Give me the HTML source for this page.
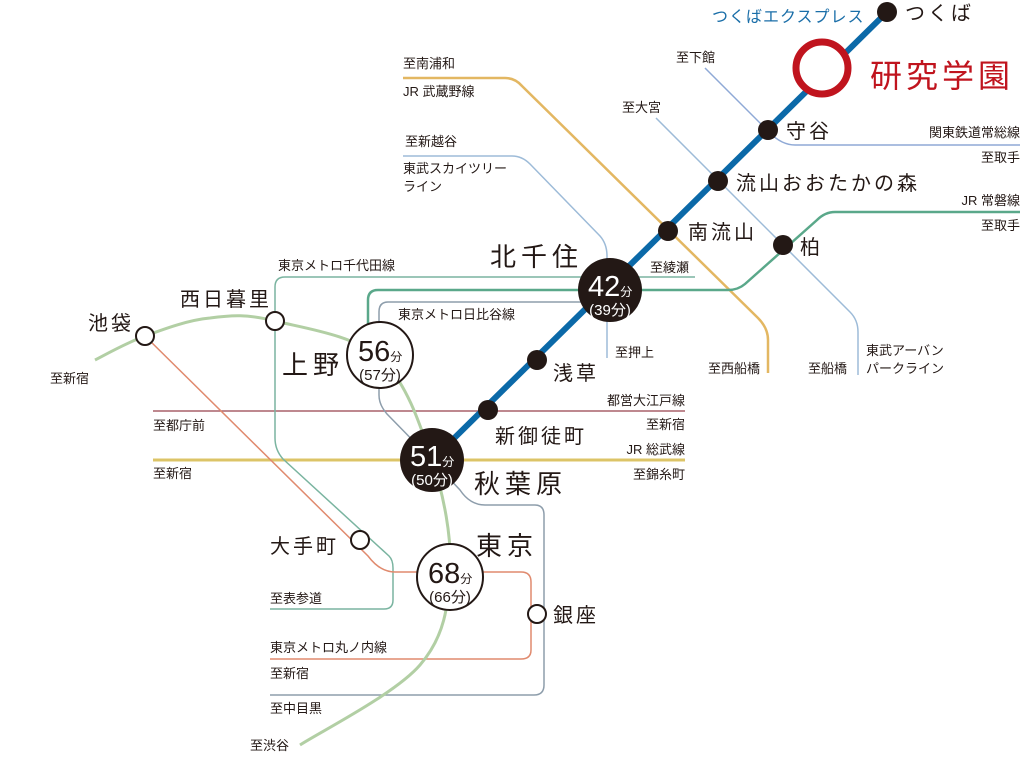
<!DOCTYPE html>
<html><head><meta charset="utf-8"><style>
html,body{margin:0;padding:0;background:#fff;}
svg{display:block;}
text{font-family:"Liberation Sans","Noto Sans CJK JP",sans-serif;fill:#231815;}
.s{font-size:13px;}
.st{font-size:20px;letter-spacing:3px;}
.big{font-size:26px;letter-spacing:5px;}
.w{fill:#fff;}
</style></head><body>
<svg width="1024" height="780" viewBox="0 0 1024 780" xmlns="http://www.w3.org/2000/svg">
<g fill="none">
<line x1="153" y1="411" x2="685" y2="411" stroke="#a8606a" stroke-width="1.5"/>
<line x1="153" y1="460" x2="685" y2="460" stroke="#dcc467" stroke-width="3"/>
<path d="M403 78 H505 Q515 78 522 86 L758 318 Q768 328 768 340 V373" stroke="#e3b762" stroke-width="2.5"/>
<path d="M403 156 H512 Q522 156 530 164 L600 236 Q607 244 607 256 V358" stroke="#9dbbd8" stroke-width="1.5"/>
<path d="M705 68 L770 133 Q782 145 795 145 H1020" stroke="#8fa9d6" stroke-width="1.5"/>
<path d="M656 118 L850 312 Q858 320 858 332 V375" stroke="#9dbbd8" stroke-width="1.5"/>
<path d="M1020 212 H835 Q825 212 817 220 L745 284 Q738 290 728 290 H378 Q368 290 368 300 V340" stroke="#5aa88a" stroke-width="2.5"/>
<path d="M695 277 H285 Q275 277 275 287 V438 Q275 450 283 459 L389 556 Q393 560 393 568 V600 Q393 609 384 609 H270" stroke="#7ab4a0" stroke-width="1.5"/>
<path d="M610 302 H388 Q379 302 379 312 V395 Q379 405 387 414 L430 458 L460 490 Q470 505 485 505 H535 Q544 505 544 515 V685 Q544 695 534 695 H270" stroke="#8d9dab" stroke-width="1.5"/>
<path d="M145 336 L368 556 Q380 572 395 572 H521 Q531 572 531 582 V650 Q531 659 521 659 H270" stroke="#e08a6e" stroke-width="1.5"/>
<path d="M95 360 C103 356 126 343 145 336 C164 329 188 320 210 318 C232 315 247 314 275 321 C303 328 354 335 380 358 C406 381 420 424 432 460 C444 496 452 538 450 572 C448 606 445 636 420 665 C395 694 320 732 300 745" stroke="#b2cfa4" stroke-width="3"/>
<line x1="887" y1="12" x2="432" y2="460" stroke="#0b69a8" stroke-width="6"/>
</g>
<g fill="#231815">
<circle cx="887" cy="12" r="10"/><circle cx="768" cy="130" r="10"/><circle cx="718" cy="181" r="10"/>
<circle cx="668" cy="231" r="10"/><circle cx="783" cy="245" r="10"/><circle cx="537" cy="360" r="10"/>
<circle cx="488" cy="410" r="10"/>
<circle cx="610" cy="290" r="32"/><circle cx="432" cy="460" r="32"/>
</g>
<circle cx="822" cy="68" r="26" fill="#fff" stroke="#c0141e" stroke-width="7"/>
<g fill="#fff" stroke="#231815" stroke-width="2">
<circle cx="145" cy="336" r="9"/><circle cx="275" cy="321" r="9"/><circle cx="360" cy="540" r="9"/><circle cx="537" cy="614" r="9"/>
<circle cx="380" cy="355" r="33"/><circle cx="450" cy="577" r="33"/>
</g>
<text x="588" y="296" class="w" font-size="29">42<tspan font-size="12">分</tspan></text>
<text x="610" y="315" class="w" font-size="15" text-anchor="middle">(39分)</text>
<text x="410" y="466" class="w" font-size="29">51<tspan font-size="12">分</tspan></text>
<text x="432" y="485" class="w" font-size="15" text-anchor="middle">(50分)</text>
<text x="358" y="361" font-size="29">56<tspan font-size="12">分</tspan></text>
<text x="380" y="380" font-size="15" text-anchor="middle">(57分)</text>
<text x="428" y="583" font-size="29">68<tspan font-size="12">分</tspan></text>
<text x="450" y="602" font-size="15" text-anchor="middle">(66分)</text>
<text x="712" y="22" font-size="16" style="fill:#1a6ea8" letter-spacing="1">つくばエクスプレス</text>
<text x="905" y="20" class="st">つくば</text>
<text x="870" y="87" font-size="32" letter-spacing="4" style="fill:#c0141e">研究学園</text>
<text x="786" y="138" class="st">守谷</text>
<text x="736" y="190" class="st">流山おおたかの森</text>
<text x="688" y="239" class="st">南流山</text>
<text x="800" y="254" class="st">柏</text>
<text x="490" y="266" class="big">北千住</text>
<text x="553" y="380" class="st">浅草</text>
<text x="495" y="443" class="st">新御徒町</text>
<text x="474" y="493" class="big" font-size="24">秋葉原</text>
<text x="282" y="374" class="big" font-size="27">上野</text>
<text x="476" y="555" class="big">東京</text>
<text x="270" y="553" class="st">大手町</text>
<text x="553" y="622" class="st">銀座</text>
<text x="88" y="330" class="st">池袋</text>
<text x="180" y="306" class="st">西日暮里</text>
<g class="s">
<text x="676" y="62" class="s">至下館</text>
<text x="622" y="112" class="s">至大宮</text>
<text x="1020" y="137" class="s" text-anchor="end">関東鉄道常総線</text>
<text x="1020" y="162" class="s" text-anchor="end">至取手</text>
<text x="1020" y="205" class="s" text-anchor="end">JR 常磐線</text>
<text x="1020" y="230" class="s" text-anchor="end">至取手</text>
<text x="403" y="68" class="s">至南浦和</text>
<text x="403" y="96" class="s">JR 武蔵野線</text>
<text x="405" y="146" class="s">至新越谷</text>
<text x="403" y="173" class="s">東武スカイツリー</text>
<text x="403" y="191" class="s">ライン</text>
<text x="650" y="272" class="s">至綾瀬</text>
<text x="278" y="270" class="s">東京メトロ千代田線</text>
<text x="398" y="319" class="s">東京メトロ日比谷線</text>
<text x="615" y="357" class="s">至押上</text>
<text x="708" y="373" class="s">至西船橋</text>
<text x="808" y="373" class="s">至船橋</text>
<text x="866" y="355" class="s">東武アーバン</text>
<text x="866" y="373" class="s">パークライン</text>
<text x="50" y="383" class="s">至新宿</text>
<text x="685" y="405" class="s" text-anchor="end">都営大江戸線</text>
<text x="685" y="429" class="s" text-anchor="end">至新宿</text>
<text x="153" y="430" class="s">至都庁前</text>
<text x="685" y="454" class="s" text-anchor="end">JR 総武線</text>
<text x="685" y="479" class="s" text-anchor="end">至錦糸町</text>
<text x="153" y="478" class="s">至新宿</text>
<text x="270" y="603" class="s">至表参道</text>
<text x="270" y="652" class="s">東京メトロ丸ノ内線</text>
<text x="270" y="678" class="s">至新宿</text>
<text x="270" y="713" class="s">至中目黒</text>
<text x="250" y="750" class="s">至渋谷</text>
</g>
</svg>
</body></html>
